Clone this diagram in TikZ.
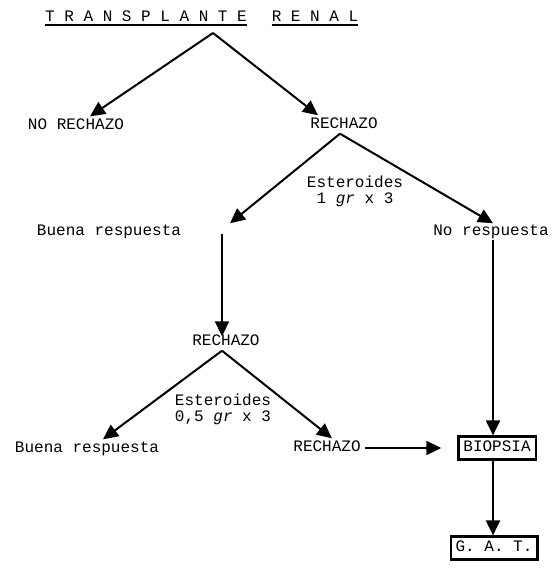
\documentclass[tikz,border=0pt]{standalone}
\usepackage{fontspec}
\setmainfont{Liberation Mono}
\usetikzlibrary{arrows.meta,calc}
\begin{document}
\begin{tikzpicture}[x=1pt,y=-1pt,
  lbl/.style={inner sep=0pt,font=\fontsize{16}{18}\selectfont,text height=9pt,text depth=2pt},
  note/.style={inner sep=0pt,font=\fontsize{16}{16}\selectfont,align=center},
  boxed/.style={lbl,draw,line width=2.2pt,inner xsep=5pt,inner ysep=6pt},
  arr/.style={line width=2pt,-{Triangle[length=15pt,width=14pt]}},
  ln/.style={line width=2pt}]
\useasboundingbox (0,0) rectangle (555,569);
% title
\node[lbl] (t1) at (146,18) {T R A N S P L A N T E};
\node[lbl] (t2) at (315,18) {R E N A L};
\draw[line width=0.8pt] ($(t1.south west)+(0,0.5)$) -- ($(t1.south east)+(0,0.5)$);
\draw[line width=0.8pt] ($(t1.south west)+(0,2)$) -- ($(t1.south east)+(0,2)$);
\draw[line width=0.8pt] ($(t2.south west)+(0,0.5)$) -- ($(t2.south east)+(0,0.5)$);
\draw[line width=0.8pt] ($(t2.south west)+(0,2)$) -- ($(t2.south east)+(0,2)$);
\coordinate (apex) at (213,33);
% nodes
\node[lbl] (norech) at (76,126) {NO RECHAZO};
\node[lbl] (rech1) at (344,125) {RECHAZO};
\node[note] (est1) at (355,191) {Esteroides\\1 \textit{gr} x 3};
\node[lbl] (buena1) at (109,232) {Buena respuesta};
\node[lbl] (nores) at (491,232) {No respuesta};
\node[lbl] (rech2) at (226,342) {RECHAZO};
\node[note] (est2) at (223,409) {Esteroides\\0,5 \textit{gr} x 3};
\node[lbl] (buena2) at (87,449) {Buena respuesta};
\node[lbl] (rech3) at (327,448) {RECHAZO};
\node[boxed] (biop) at (497,448) {BIOPSIA};
\node[boxed] (gat) at (494,548) {G. A. T.};
% connectors
\draw[arr] (apex) -- ($(norech.north)+(14,-4)$);
\draw[arr] (apex) -- ($(rech1.north)+(-26,-4)$);
\coordinate (r1s) at ($(rech1.south)+(-4,3)$);
\draw[arr] (r1s) -- ($(buena1.north)+(121,-3)$);
\draw[arr] (r1s) -- ($(nores.north)+(2,-3)$);
\draw[arr] ($(rech2.north)+(-4,-102)$) coordinate (b1s) -- ($(rech2.north)+(-4,0)$);
\coordinate (r2s) at ($(rech2.south)+(-4,3)$);
\draw[arr] (r2s) -- ($(buena2.north)+(16,-4)$);
\draw[arr] (r2s) -- ($(rech3.north)+(5,-4)$);
\draw[arr] ($(rech3.east)+(4,0)$) -- ($(biop.west)+(-16,0)$);
\draw[arr] ($(nores.south)+(2,2)$) -- ($(biop.north)+(-4,0)$);
\draw[arr] ($(biop.south)+(-4,0)$) -- ($(gat.north)+(-1,0)$);
\end{tikzpicture}
\end{document}
